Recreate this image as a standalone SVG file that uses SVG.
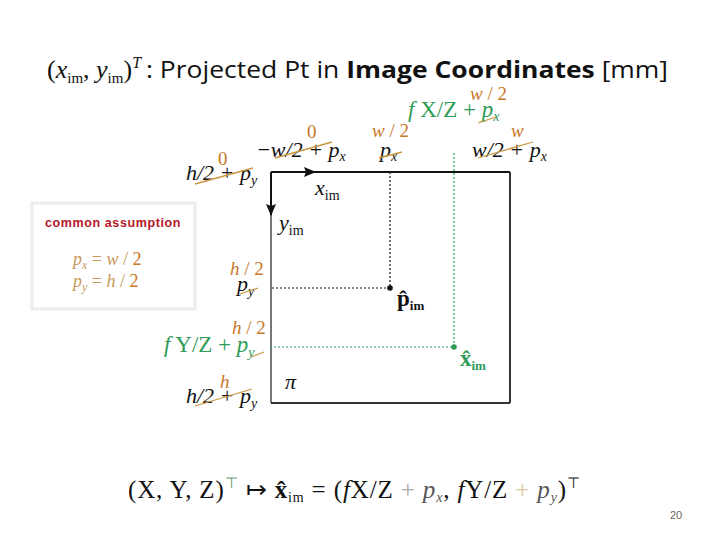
<svg xmlns="http://www.w3.org/2000/svg" width="720" height="540" viewBox="0 0 720 540">
<style>
.m{font-family:"Liberation Serif",serif;font-style:italic;font-size:22px;fill:#111}
.o{font-family:"Liberation Serif",serif;font-size:19px;fill:#c9782a}
.g{font-family:"Liberation Serif",serif;font-size:23px;fill:#2e9b57}
.st{stroke:#c9963e;stroke-width:1.3;fill:none}
.sub{font-size:14px}
.ttl{font-family:"Open Sans","Liberation Sans",sans-serif;font-size:23px;fill:#111}
</style>
<rect width="720" height="540" fill="#fff"/>
<!-- title -->
<text x="47" y="78" font-family="Liberation Serif,serif" font-size="26" fill="#111">(<tspan font-style="italic">x</tspan><tspan font-size="15" dy="5">im</tspan><tspan dy="-5">, </tspan><tspan font-style="italic">y</tspan><tspan font-size="15" dy="5">im</tspan><tspan dy="-5">)</tspan><tspan font-style="italic" font-size="16" dy="-10">T</tspan></text>
<text class="ttl" x="146" y="78" textLength="522" lengthAdjust="spacingAndGlyphs">: Projected Pt in <tspan font-weight="bold">Image Coordinates</tspan> [mm]</text>

<g id="connectors">
<line x1="271" y1="172" x2="510" y2="172" stroke="#111" stroke-width="2"/>
<line x1="271" y1="172" x2="271" y2="215" stroke="#111" stroke-width="2"/>
<line x1="271" y1="215" x2="271" y2="403" stroke="#777" stroke-width="2"/>
<line x1="510" y1="172" x2="510" y2="403" stroke="#333" stroke-width="2"/>
<line x1="271" y1="403" x2="510" y2="403" stroke="#333" stroke-width="2"/>
<polygon points="316,172 304,167 306,172 304,177" fill="#111"/>
<polygon points="271,216 266,204 271,206 276,204" fill="#111"/>
<polyline points="390,172 390,288 271,288" fill="none" stroke="#111" stroke-width="1.2" stroke-dasharray="2,2"/>
<polyline points="454,153 454,347 268,347" fill="none" stroke="#2e9b57" stroke-width="1.2" stroke-dasharray="2,2"/>
<circle cx="390" cy="288" r="2.8" fill="#111"/>
<circle cx="454" cy="347" r="2.8" fill="#2e9b57"/>
</g>

<g id="axis-labels">
<text class="m" x="315" y="195">x<tspan class="sub" dy="5" font-style="normal">im</tspan></text>
<text class="m" x="279" y="230">y<tspan class="sub" dy="5" font-style="normal">im</tspan></text>
<text class="m" x="285" y="389">π</text>
<text x="397" y="306" font-family="Liberation Serif,serif" font-weight="bold" font-size="23" fill="#111">p̂<tspan font-size="13" dy="4">im</tspan></text>
<text x="460" y="366" font-family="Liberation Serif,serif" font-weight="bold" font-size="23" fill="#2e9b57">x̂<tspan font-size="13" dy="4">im</tspan></text>
</g>

<g id="top-labels">
<text class="m" x="256" y="157">−w/2 + p<tspan class="sub" dy="4">x</tspan></text>
<line class="st" x1="275" y1="158" x2="332" y2="142"/>
<text class="o" x="307" y="138">0</text>

<text class="m" x="380" y="157">p<tspan class="sub" dy="4">x</tspan></text>
<line class="st" x1="379" y1="158" x2="402" y2="152"/>
<text class="o" x="372" y="137"><tspan font-style="italic">w</tspan> / 2</text>

<text class="m" x="472" y="157">w/2 + p<tspan class="sub" dy="4">x</tspan></text>
<line class="st" x1="478" y1="158" x2="533" y2="142"/>
<text class="o" x="511" y="137" font-style="italic">w</text>

<text class="g" x="408" y="117"><tspan font-style="italic">f</tspan> X/Z + <tspan font-style="italic">p</tspan><tspan class="sub" font-style="italic" dy="4">x</tspan></text>
<line class="st" x1="478" y1="123" x2="496" y2="117"/>
<text class="o" x="470" y="100"><tspan font-style="italic">w</tspan> / 2</text>

<text class="m" x="186" y="180">h/2 + p<tspan class="sub" dy="5">y</tspan></text>
<line class="st" x1="195" y1="184" x2="253" y2="168"/>
<text class="o" x="218" y="165">0</text>
</g>

<g id="left-labels">
<text class="o" x="230" y="275"><tspan font-style="italic">h</tspan> / 2</text>
<text class="m" x="237" y="291">p<tspan class="sub" dy="5">y</tspan></text>
<line class="st" x1="240" y1="294" x2="258" y2="288"/>

<text class="o" x="232" y="334"><tspan font-style="italic">h</tspan> / 2</text>
<text class="g" x="164" y="352"><tspan font-style="italic">f</tspan> Y/Z + <tspan font-style="italic">p</tspan><tspan class="sub" font-style="italic" dy="5">y</tspan></text>
<line class="st" x1="251" y1="357" x2="264" y2="352"/>

<text class="o" x="220" y="388" font-style="italic">h</text>
<text class="m" x="186" y="403">h/2 + p<tspan class="sub" dy="5">y</tspan></text>
<line class="st" x1="195" y1="406" x2="252" y2="389"/>
</g>

<g id="assumption">
<rect x="32" y="203" width="163" height="106" fill="#fff" stroke="#ececec" stroke-width="3"/>
<text x="113" y="227" text-anchor="middle" font-family="Liberation Sans,sans-serif" font-weight="bold" font-size="12.5" letter-spacing="0.6" fill="#b5172a">common assumption</text>
<text x="73" y="265" font-family="Liberation Serif,serif" font-size="18" fill="#c99a5a"><tspan font-style="italic">p</tspan><tspan font-size="12" font-style="italic" dy="4">x</tspan><tspan dy="-4"> = </tspan><tspan font-style="italic">w</tspan> / <tspan fill="#c9782a">2</tspan></text>
<text x="73" y="287" font-family="Liberation Serif,serif" font-size="18" fill="#c99a5a"><tspan font-style="italic">p</tspan><tspan font-size="12" font-style="italic" dy="4">y</tspan><tspan dy="-4"> = </tspan><tspan font-style="italic">h</tspan> / <tspan fill="#c9782a">2</tspan></text>
</g>

<g id="formula">
<text x="128" y="498" font-family="Liberation Serif,serif" font-size="25" fill="#111" textLength="452">(X, Y, Z)<tspan font-family="Liberation Sans,sans-serif" font-size="15" dy="-10" fill="#6a9a6a">⊤</tspan><tspan dy="10"> ↦ </tspan><tspan font-weight="bold">x̂</tspan><tspan font-size="14" dy="4">im</tspan><tspan dy="-4"> = (</tspan><tspan font-style="italic">f</tspan>X/Z <tspan fill="#aaa">+</tspan> <tspan font-style="italic" fill="#555">p</tspan><tspan font-style="italic" font-size="14" dy="4" fill="#555">x</tspan><tspan dy="-4">, </tspan><tspan font-style="italic">f</tspan>Y/Z <tspan fill="#d9c9a0">+</tspan> <tspan font-style="italic" fill="#555">p</tspan><tspan font-style="italic" font-size="14" dy="4" fill="#555">y</tspan><tspan dy="-4">)</tspan><tspan font-family="Liberation Sans,sans-serif" font-size="15" dy="-10">⊤</tspan></text>
</g>

<text x="670" y="519" font-family="Liberation Sans,sans-serif" font-size="11" fill="#666">20</text>
</svg>
